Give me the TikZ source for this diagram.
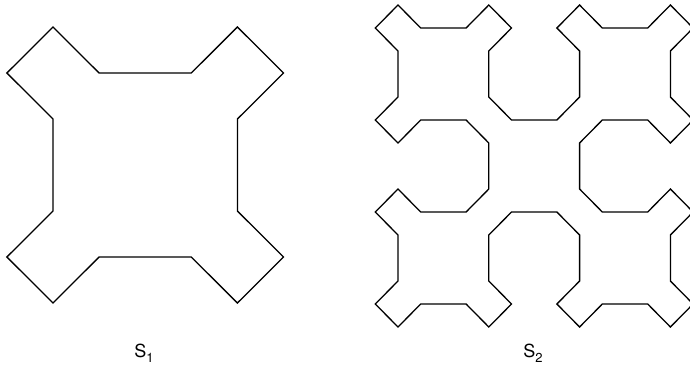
\documentclass[tikz,border=0pt]{standalone}
\usepackage{fontspec}
\setsansfont{TeX Gyre Heros}
\usepackage{tikz}

% unit moves of the curve (step sizes \hx, \hy set per curve)
\newcommand\dSE{-- ++(\hx,\hy)}
\newcommand\dSW{-- ++(-\hx,\hy)}
\newcommand\dNW{-- ++(-\hx,-\hy)}
\newcommand\dNE{-- ++(\hx,-\hy)}
\newcommand\dR{-- ++({2*\hx},0)}
\newcommand\dL{-- ++({-2*\hx},0)}
\newcommand\dD{-- ++(0,{2*\hy})}
\newcommand\dU{-- ++(0,{-2*\hy})}

% order 1 pieces
\newcommand\SierA{\dSE\dR\dNE}
\newcommand\SierB{\dSW\dD\dSE}
\newcommand\SierC{\dNW\dL\dSW}
\newcommand\SierD{\dNE\dU\dNW}

% order 2 pieces
\newcommand\SierAA{\SierA\dSE\SierB\dR\SierD\dNE\SierA}
\newcommand\SierBB{\SierB\dSW\SierC\dD\SierA\dSE\SierB}
\newcommand\SierCC{\SierC\dNW\SierD\dL\SierB\dSW\SierC}
\newcommand\SierDD{\SierD\dNE\SierA\dU\SierC\dNW\SierD}

% label with a large subscript
\newcommand\curvename[1]{S\raisebox{-0.28em}{\fontsize{13}{15}\selectfont #1}}

\begin{document}
\begin{tikzpicture}[
  x=1pt, y=-1pt,
  curve/.style={draw=black, line width=1.3pt, line join=miter},
  lbl/.style={font=\sffamily\fontsize{18}{21}\selectfont, anchor=base}
]
\useasboundingbox (0,0) rectangle (690,368);
\clip (0,0) rectangle (690,368);

% S1
\def\hx{46.1}\def\hy{46}
\draw[curve] (53,27) \SierA\dSE\SierB\dSW\SierC\dNW\SierD -- cycle;
\node[lbl] (s1) at (144,357) {\curvename{1}};

% S2
\def\hx{22.7}\def\hy{23}
\draw[curve] (398,5) \SierAA\dSE\SierBB\dSW\SierCC\dNW\SierDD -- cycle;
\node[lbl] (s2) at (533,357) {\curvename{2}};

\end{tikzpicture}
\end{document}
